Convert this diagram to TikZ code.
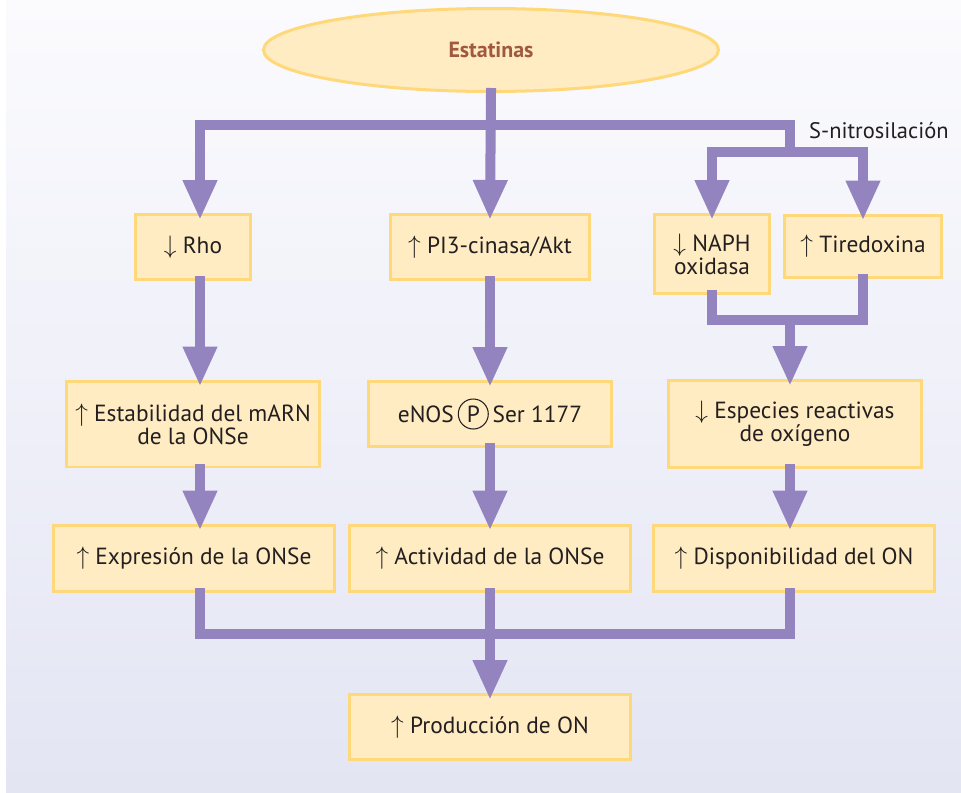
\documentclass[tikz,border=0pt]{standalone}
\usepackage{fontspec}
\setmainfont{PT Sans}
\usepackage{tikz}
\usetikzlibrary{arrows.meta}
\usetikzlibrary{shapes.geometric}
\usetikzlibrary{positioning}

\definecolor{lila}{RGB}{147,131,191}
\definecolor{boxfill}{RGB}{255,236,194}
\definecolor{boxline}{RGB}{255,216,122}
\definecolor{brick}{RGB}{160,88,66}
\definecolor{ink}{RGB}{35,31,32}
\definecolor{bgtop}{RGB}{251,251,254}
\definecolor{bgbot}{RGB}{227,229,243}

\newcommand{\arrup}{$\uparrow$ }
\newcommand{\arrdn}{$\downarrow$ }
\newcommand{\circP}{\tikz[baseline=(cp.base)]\node(cp)[draw=ink, fill=none, circle, line width=0.6pt, inner sep=0pt, minimum size=0.6cm]{P};}

\tikzset{
  box/.style={draw=boxline, fill=boxfill, line width=0.06cm, text=ink, align=center,
    inner sep=2pt, font=\fontsize{13.3}{13.1}\selectfont},
  flow/.style={draw=lila, line width=0.2cm, line cap=rect, line join=miter},
  tip/.style={-{Triangle[width=0.64cm,length=0.8cm]}, shorten >=-0.14cm}
}

\begin{document}
\begin{tikzpicture}[x=0.02cm, y=-0.02cm]
    \fill[white] (0,0) rectangle (961,792);
    \shade[top color=bgtop, bottom color=bgbot] (6,0) rectangle (961,792);

    \node(statins) [ellipse, draw=boxline, fill=boxfill, line width=0.06cm, inner sep=0pt,
      minimum width=9.1cm, minimum height=1.66cm, text=brick,
      font=\bfseries\fontsize{12.5}{13}\selectfont] at (491,50) {Estatinas};

    % first row
    \node(rho) [box, minimum width=2.32cm, minimum height=1.3cm] at (193,247) {\arrdn Rho};
    \node(pik) [box, minimum width=3.98cm, minimum height=1.3cm] at (490,247) {\arrup PI3-cinasa/Akt};
    \node(naph) [box, minimum width=2.32cm, minimum height=1.58cm] at (712,254) {\arrdn NAPH\\oxidasa};
    \node(tired) [box, minimum width=3.14cm, minimum height=1.24cm] at (863,246) {\arrup Tiredoxina};

    % second row
    \node(estab) [box, minimum width=5.08cm, minimum height=1.72cm] at (193,424) {\arrup Estabilidad del mARN\\de la ONSe};
    \node(enos) [box, minimum width=4.86cm, minimum height=1.3cm] at (490,414) {eNOS\,\circP\,Ser 1177};
    \node(espec) [box, minimum width=5.06cm, minimum height=1.74cm] at (795,424) {\arrdn Especies reactivas\\de oxígeno};

    % third row
    \node(expr) [box, minimum width=5.64cm, minimum height=1.32cm] at (194,558) {\arrup Expresión de la ONSe};
    \node(activ) [box, minimum width=5.64cm, minimum height=1.32cm] at (490,558) {\arrup Actividad de la ONSe};
    \node(dispo) [box, minimum width=5.64cm, minimum height=1.32cm] at (794,558) {\arrup Disponibilidad del ON};

    \node(produ) [box, minimum width=5.64cm, minimum height=1.3cm] at (490,727) {\arrup Producción de ON};

    \coordinate (jl) at (200,125);
    \coordinate (jr) at (790,125);
    \coordinate (js) at (790,152);
    \coordinate (jm) at (790,320);
    \coordinate (jb) at (790,634);

    \node(snitro) [anchor=west, text=ink, font=\fontsize{12.8}{13}\selectfont] at (803,131) {S-nitrosilación};

    \draw[flow, tip] (statins.south) -- (pik.north);
    \draw[flow] (jl) -- (jr) -- (js);
    \draw[flow, tip] (jl) -- (jl |- rho.north);
    \draw[flow, tip] (js) -| (naph.north);
    \draw[flow, tip] (js) -| (tired.north);

    \draw[flow, tip] (jl |- rho.south) -- (jl |- estab.north);
    \draw[flow, tip] (pik.south) -- (enos.north);
    \draw[flow] (naph.south) |- (jm) -| (tired.south);
    \draw[flow, tip] (jm) -- (jm |- espec.north);

    \draw[flow, tip] (jl |- estab.south) -- (jl |- expr.north);
    \draw[flow, tip] (enos.south) -- (activ.north);
    \draw[flow, tip] (jm |- espec.south) -- (jm |- dispo.north);

    \draw[flow] (jl |- expr.south) |- (jb) -- (jm |- dispo.south);
    \draw[flow, tip] (activ.south) -- (produ.north);
\end{tikzpicture}
\end{document}
